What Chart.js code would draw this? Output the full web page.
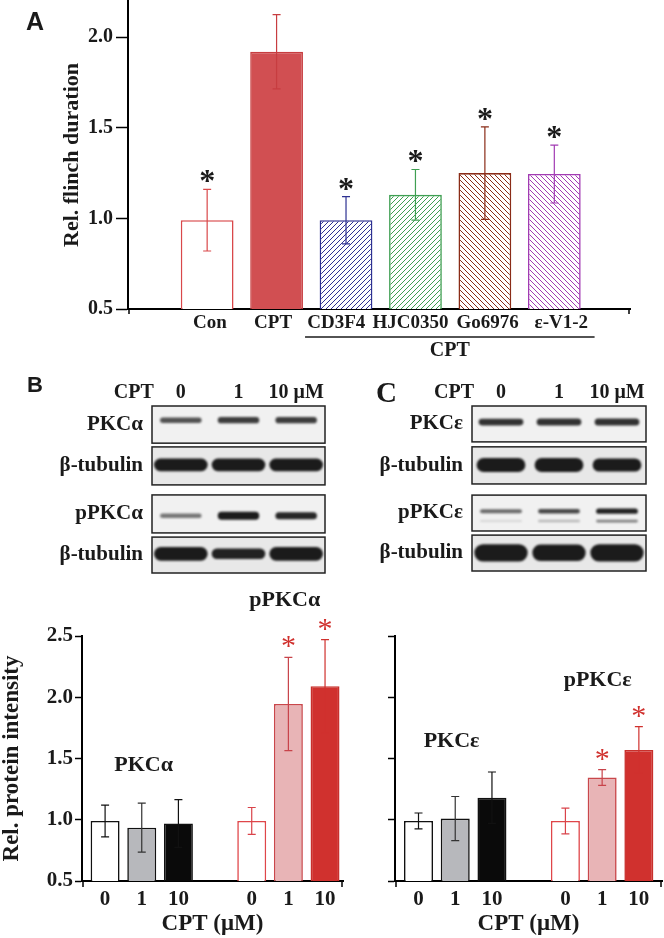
<!DOCTYPE html>
<html>
<head>
<meta charset="utf-8">
<script src="https://cdn.jsdelivr.net/npm/chart.js@4.4.0/dist/chart.umd.min.js"></script>
<style>
  body { margin: 0; background: #fff; }
  #fig { position: relative; width: 664px; height: 938px; overflow: hidden; }
  canvas { position: absolute; }
  .letter { position: absolute; font-weight: bold; line-height: 1; color: #1a1a1a; }
</style>
</head>
<body>
<div id="fig">
  <canvas id="chA" width="664" height="360" style="left:0;top:0"></canvas>
  <canvas id="blotB" width="340" height="220" style="left:0;top:360px"></canvas>
  <canvas id="blotC" width="344" height="220" style="left:320px;top:360px"></canvas>
  <canvas id="barB" width="350" height="358" style="left:0;top:580px"></canvas>
  <canvas id="barC" width="314" height="358" style="left:350px;top:580px"></canvas>
  <div class="letter" style="left:26px;top:9px;font-family:'Liberation Sans',Arial,sans-serif;font-size:25px">A</div>
  <div class="letter" style="left:27px;top:374px;font-family:'Liberation Sans',Arial,sans-serif;font-size:22px">B</div>
  <div class="letter" style="left:376px;top:378px;font-family:'Liberation Serif',serif;font-size:29px">C</div>
</div>
<script>
// panel A: relative flinch duration
const groupsA = ['Con', 'CPT', 'CD3F4', 'HJC0350', 'Go6976', 'ε-V1-2'];
const flinchMean = [0.99, 1.92, 0.99, 1.13, 1.25, 1.245];
const flinchErr = [0.17, 0.205, 0.13, 0.14, 0.255, 0.16];
const flinchSig = [true, false, true, true, true, true];
const ticksA = [0.5, 1.0, 1.5, 2.0];

// panels B/C: densitometry
const doseLabels = ['0', '1', '10'];
const doseX = [0, 1, 2, 4, 5, 6];
const pkcaTotal = [0.99, 0.935, 0.97];
const pkcaTotalErr = [0.13, 0.2, 0.195];
const pkcaPhos = [0.99, 1.945, 2.09];
const pkcaPhosErr = [0.11, 0.38, 0.38];
const pkceTotal = [0.99, 1.01, 1.18];
const pkceTotalErr = [0.065, 0.18, 0.21];
const pkcePhos = [0.99, 1.345, 1.57];
const pkcePhosErr = [0.105, 0.065, 0.19];
const phosSig = [false, false, false, false, true, true];
const ticksB = [0.5, 1.0, 1.5, 2.0, 2.5];

// blots
const laneLabels = ['0', '1', '10 μM'];
const rowsB = ['PKCα', 'β-tubulin', 'pPKCα', 'β-tubulin'];
const stripsB = [[0, 0.89], [0.98, 1.89], [2.13, 3.04], [3.14, 4]];
const bandCenterB = [0.34, 1.41, 2.63, 3.54];
const bandThickB = [[0.13, 0.15, 0.15], [0.30, 0.30, 0.30], [0.11, 0.19, 0.17], [0.33, 0.25, 0.33]];
const bandDarkB = [[0.7, 0.8, 0.8], [0.95, 0.95, 0.95], [0.55, 0.95, 0.9], [0.95, 0.92, 0.95]];
const bandWidthB = [0.72, 0.93, 0.72, 0.93];

const rowsC = ['PKCε', 'β-tubulin', 'pPKCε', 'β-tubulin'];
const stripsC = [[0, 0.87], [0.99, 1.89], [2.16, 3.03], [3.13, 4]];
const bandCenterC = [0.39, 1.43, 2.55, 3.56];
const bandThickC = [[0.16, 0.17, 0.17], [0.34, 0.34, 0.32], [0.10, 0.11, 0.13], [0.42, 0.40, 0.42]];
const bandDarkC = [[0.85, 0.85, 0.85], [0.95, 0.95, 0.95], [0.6, 0.75, 0.92], [0.95, 0.95, 0.95]];
const bandWidthC = [0.77, 0.84, 0.72, 0.92];
const faintBandC = [2.79, [0.05, 0.06, 0.07], [0.12, 0.25, 0.5]];

const serif = "'Liberation Serif', 'Times New Roman', serif";
const ink = '#1a1a1a';

function hatch(color, dir) {
  const s = 5;
  const c = document.createElement('canvas');
  c.width = s; c.height = s;
  const g = c.getContext('2d');
  g.fillStyle = '#fff';
  g.fillRect(0, 0, s, s);
  g.strokeStyle = color;
  g.lineWidth = 1;
  g.beginPath();
  if (dir > 0) {
    g.moveTo(-1, s + 1); g.lineTo(s + 1, -1);
    g.moveTo(-1, 1); g.lineTo(1, -1);
    g.moveTo(s - 1, s + 1); g.lineTo(s + 1, s - 1);
  } else {
    g.moveTo(-1, -1); g.lineTo(s + 1, s + 1);
    g.moveTo(s - 1, -1); g.lineTo(s + 1, 1);
    g.moveTo(-1, s - 1); g.lineTo(1, s + 1);
  }
  g.stroke();
  return g.createPattern(c, 'repeat');
}

const fitY = w => s => { s.width = w; s.paddingTop = 0; s.paddingBottom = 0; };
const fitX = h => s => { s.height = h; s.paddingLeft = 0; s.paddingRight = 0; };

const errorBars = {
  id: 'errorBars',
  afterDatasetsDraw(chart, args, o) {
    const ctx = chart.ctx, y = chart.scales.y;
    const meta = chart.getDatasetMeta(0);
    const ds = chart.data.datasets[0];
    ctx.save();
    meta.data.forEach((bar, i) => {
      const v = ds.data[i].y, e = o.err[i];
      const top = y.getPixelForValue(v + e), bot = y.getPixelForValue(v - e);
      ctx.strokeStyle = o.colors[i];
      ctx.lineWidth = 1.2;
      ctx.beginPath();
      ctx.moveTo(bar.x, top); ctx.lineTo(bar.x, bot);
      ctx.moveTo(bar.x - o.cap, top); ctx.lineTo(bar.x + o.cap, top);
      ctx.moveTo(bar.x - o.cap, bot); ctx.lineTo(bar.x + o.cap, bot);
      ctx.stroke();
      if (o.stars[i]) {
        ctx.fillStyle = o.starColor;
        ctx.font = o.starFont;
        ctx.textAlign = 'center';
        ctx.textBaseline = 'alphabetic';
        ctx.fillText('*', bar.x, top + o.starShift);
      }
    });
    ctx.restore();
  }
};

// category names, group labels, the CPT bracket and the small ticks at both ends of the x axis
const notes = {
  id: 'notes',
  afterDraw(chart, args, o) {
    const ctx = chart.ctx, x = chart.scales.x, y = chart.scales.y;
    ctx.save();
    ctx.fillStyle = ink;
    ctx.strokeStyle = '#000';
    ctx.textAlign = 'center';
    ctx.textBaseline = 'middle';
    if (o.names) {
      ctx.font = 'bold 19px ' + serif;
      o.names.forEach((n, i) => ctx.fillText(n, x.getPixelForValue(i + o.nudge[i]), x.top + 14));
    }
    ctx.font = 'bold 22px ' + serif;
    (o.labels || []).forEach(l => {
      ctx.fillText(l[0], x.getPixelForValue(l[1]), y.getPixelForValue(l[2]));
    });
    if (o.endTicks) {
      ctx.lineWidth = 1.5;
      ctx.beginPath();
      [x.left + 1, x.right - 1].forEach(px => { ctx.moveTo(px, x.top); ctx.lineTo(px, x.top + o.endTicks); });
      ctx.stroke();
    }
    if (o.bracket) {
      const b = o.bracket;
      const x1 = x.getPixelForValue(b[0]), x2 = x.getPixelForValue(b[1]);
      ctx.strokeStyle = ink;
      ctx.lineWidth = 1.5;
      ctx.beginPath();
      ctx.moveTo(x1, x.top + 28); ctx.lineTo(x2, x.top + 28);
      ctx.stroke();
      ctx.font = 'bold 20px ' + serif;
      ctx.fillText(b[2], (x1 + x2) / 2, x.top + 42);
    }
    ctx.restore();
  }
};

// panel A
const fillsA = ['#ffffff', '#d14f52', hatch('#2e3192', 1), hatch('#3f9f52', 1), hatch('#8a2c17', -1), hatch('#a23bb3', -1)];
const edgesA = ['#d9484a', '#c73d40', '#2e3192', '#3f9f52', '#8a2c17', '#a23bb3'];

new Chart(document.getElementById('chA'), {
  type: 'bar',
  data: {
    datasets: [{
      data: groupsA.map((g, i) => ({ x: i, y: flinchMean[i] })),
      backgroundColor: fillsA,
      borderColor: edgesA,
      borderWidth: 1.6,
      barPercentage: 0.76,
      categoryPercentage: 1
    }]
  },
  options: {
    responsive: false,
    animation: false,
    layout: { padding: { top: 1, right: 34, left: 0, bottom: 0 } },
    plugins: {
      legend: { display: false },
      tooltip: { enabled: false },
      errorBars: {
        err: flinchErr, colors: edgesA, cap: 4, stars: flinchSig,
        starColor: ink, starFont: 'bold 32px ' + serif, starShift: 2
      },
      // printed names sit a little off the bar centres, spread apart
      notes: { names: groupsA, nudge: [0.04, -0.05, -0.14, -0.07, 0.04, 0.1], bracket: [1.41, 5.58, 'CPT'], endTicks: 5 }
    },
    scales: {
      x: {
        type: 'linear', min: -1.14, max: 6.09, offset: false,
        afterBuildTicks: s => { s.ticks = groupsA.map((g, i) => ({ value: i })); },
        afterFit: fitX(51),
        ticks: { display: false },
        grid: { display: false },
        border: { color: '#000', width: 2 }
      },
      y: {
        min: 0.5, max: 2.2,
        afterBuildTicks: s => { s.ticks = ticksA.map(v => ({ value: v })); },
        afterFit: fitY(128),
        ticks: { padding: 3, color: ink, font: { family: serif, size: 20, weight: 'bold' }, callback: v => v.toFixed(1) },
        grid: { drawOnChartArea: false, tickLength: 12, tickColor: '#000', tickWidth: 1.5 },
        border: { color: '#000', width: 2 },
        title: {
          display: true, text: 'Rel. flinch duration', color: ink,
          font: { family: serif, size: 22, weight: 'bold' }, padding: { top: 59, bottom: 0 }
        }
      }
    }
  },
  plugins: [errorBars, notes]
});

// blots
const blotFrame = {
  id: 'blotFrame',
  beforeDatasetsDraw(chart, args, o) {
    const ctx = chart.ctx, a = chart.chartArea, y = chart.scales.y, x = chart.scales.x;
    ctx.save();
    o.strips.forEach((s, i) => {
      const t = y.getPixelForValue(s[0]), b = y.getPixelForValue(s[1]);
      ctx.fillStyle = i % 2 ? '#e8e8e8' : '#f1f1f1';
      ctx.fillRect(a.left, t, a.right - a.left, b - t);
    });
    ctx.fillStyle = ink;
    ctx.font = 'bold 20px ' + serif;
    ctx.textAlign = 'right';
    ctx.textBaseline = 'middle';
    ctx.fillText('CPT', x.getPixelForValue(0) - 27, a.top - 13);
    ctx.restore();
    ctx.save();
    ctx.filter = 'blur(1.3px)';
  },
  afterDatasetsDraw(chart, args, o) {
    const ctx = chart.ctx, a = chart.chartArea, y = chart.scales.y;
    ctx.restore();
    ctx.save();
    ctx.strokeStyle = '#222';
    ctx.lineWidth = 1.5;
    o.strips.forEach(s => {
      const t = y.getPixelForValue(s[0]), b = y.getPixelForValue(s[1]);
      ctx.strokeRect(a.left, t, a.right - a.left, b - t);
    });
    ctx.restore();
  }
};

function bandSet(center, thick, dark, width) {
  return {
    data: laneLabels.map((l, j) => [center - thick[j] / 2, center + thick[j] / 2]),
    backgroundColor: dark.map(d => `rgba(16,16,16,${d})`),
    barPercentage: width,
    categoryPercentage: 1,
    grouped: false,
    borderRadius: 40,
    borderSkipped: false,
    borderWidth: 0
  };
}

function blot(id, rows, strips, centers, thick, dark, widths, extra) {
  const sets = rows.map((r, i) => bandSet(centers[i], thick[i], dark[i], widths[i]));
  if (extra) sets.push(bandSet(extra[0], extra[1], extra[2], widths[2]));
  const rowMid = strips.map(s => (s[0] + s[1]) / 2);
  new Chart(document.getElementById(id), {
    type: 'bar',
    data: { labels: laneLabels, datasets: sets },
    options: {
      responsive: false,
      animation: false,
      layout: { padding: { top: 0, left: 0, right: id === 'blotB' ? 15 : 18, bottom: id === 'blotB' ? 7 : 9 } },
      plugins: { legend: { display: false }, tooltip: { enabled: false }, blotFrame: { strips } },
      scales: {
        x: {
          position: 'top',
          afterFit: fitX(46),
          ticks: {
            autoSkip: false, maxRotation: 0, minRotation: 0, padding: 1, color: ink,
            font: { family: serif, size: 20, weight: 'bold' }
          },
          grid: { display: false, drawTicks: false },
          border: { display: false }
        },
        y: {
          min: 0, max: 4, reverse: true,
          afterBuildTicks: s => { s.ticks = rowMid.map(v => ({ value: v })); },
          afterFit: fitY(152),
          ticks: { padding: 9, color: ink, font: { family: serif, size: 21, weight: 'bold' }, callback: (v, i) => rows[i] },
          grid: { display: false, drawTicks: false },
          border: { display: false }
        }
      }
    },
    plugins: [blotFrame]
  });
}

blot('blotB', rowsB, stripsB, bandCenterB, bandThickB, bandDarkB, bandWidthB);
blot('blotC', rowsC, stripsC, bandCenterC, bandThickC, bandDarkC, bandWidthC, faintBandC);

// densitometry bars
const fillsB = ['#ffffff', '#b7b8bc', '#0a0a0a', '#ffffff', '#e8b4b6', '#d0312e'];
const edgesB = ['#111111', '#111111', '#111111', '#df4649', '#c9474b', '#c8302c'];
const errColB = ['#111111', '#333333', '#111111', '#d9434a', '#c8434a', '#d0312e'];

function densChart(id, total, totalErr, phos, phosErr, yw, padR, xmin, xmax, showY, labels) {
  const vals = total.concat(phos);
  const errs = totalErr.concat(phosErr);
  const tickText = doseLabels.concat(doseLabels);
  new Chart(document.getElementById(id), {
    type: 'bar',
    data: {
      datasets: [{
        data: doseX.map((x, i) => ({ x, y: vals[i] })),
        backgroundColor: fillsB,
        borderColor: edgesB,
        borderWidth: 1.6,
        barPercentage: 0.79,
        categoryPercentage: 1
      }]
    },
    options: {
      responsive: false,
      animation: false,
      layout: { padding: { top: 56, right: padR, left: 0, bottom: 0 } },
      plugins: {
        legend: { display: false },
        tooltip: { enabled: false },
        errorBars: {
          err: errs, colors: errColB, cap: 4, stars: phosSig,
          starColor: '#d0312e', starFont: '30px ' + serif, starShift: -2
        },
        notes: { labels, endTicks: 6 }
      },
      scales: {
        x: {
          type: 'linear', min: xmin, max: xmax, offset: false,
          afterBuildTicks: s => { s.ticks = doseX.map(v => ({ value: v })); },
          afterFit: fitX(57),
          ticks: {
            autoSkip: false, maxRotation: 0, minRotation: 0, padding: 0, color: ink,
            font: { family: serif, size: 21, weight: 'bold' },
            callback: (v, i) => tickText[i]
          },
          grid: { drawOnChartArea: false, offset: false, tickLength: 6, tickColor: 'rgba(0,0,0,0)' },
          border: { color: '#000', width: 2 },
          title: {
            display: true, text: 'CPT (μM)', color: ink,
            font: { family: serif, size: 23, weight: 'bold' }, padding: { top: 0, bottom: 0 }
          }
        },
        y: {
          min: 0.5, max: 2.5,
          afterBuildTicks: s => { s.ticks = ticksB.map(v => ({ value: v })); },
          afterFit: fitY(yw),
          ticks: {
            padding: 2, color: ink, font: { family: serif, size: 21, weight: 'bold' },
            callback: v => showY ? v.toFixed(1) : ''
          },
          grid: { drawOnChartArea: false, tickLength: 7, tickColor: '#000', tickWidth: 1.5 },
          border: { color: '#000', width: 2 },
          title: {
            display: showY, text: 'Rel. protein intensity', color: ink,
            font: { family: serif, size: 23, weight: 'bold' }, padding: { top: -2, bottom: 0 }
          }
        }
      }
    },
    plugins: [errorBars, notes]
  });
}

densChart('barB', pkcaTotal, pkcaTotalErr, pkcaPhos, pkcaPhosErr, 82, 7, -0.63, 6.49, true,
  [['PKCα', 1.05, 1.446], ['pPKCα', 4.9, 2.79]]);
densChart('barC', pkceTotal, pkceTotalErr, pkcePhos, pkcePhosErr, 45, 2, -0.64, 6.63, false,
  [['PKCε', 0.9, 1.64], ['pPKCε', 4.88, 2.14]]);
</script>
</body>
</html>
